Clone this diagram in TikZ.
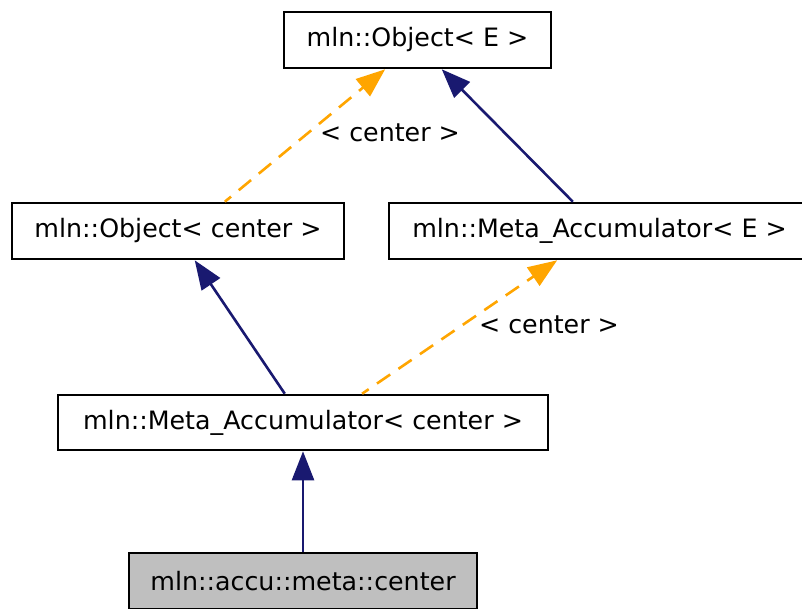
\documentclass[tikz,border=0pt]{standalone}
\usepackage{fontspec}
\setmainfont{DejaVu Sans}
\usetikzlibrary{arrows.meta,calc}
\definecolor{edgenavy}{HTML}{191970}
\definecolor{edgeorange}{HTML}{FFA500}
\definecolor{nodegray}{HTML}{BFBFBF}
\tikzset{
  cls/.style={draw=black, line width=2.6pt, fill=white, minimum height=56pt, inner sep=0pt, font=\fontsize{25.3}{30}\selectfont},
  inh/.style={draw=edgenavy, line width=2.6pt, -{Triangle[length=29pt,width=22pt]}},
  tpl/.style={draw=edgeorange, line width=2.6pt, dash pattern=on 16pt off 10pt, -{Triangle[length=29pt,width=22pt]}},
  lbl/.style={font=\fontsize{25.3}{30}\selectfont, inner sep=0pt}
}
\begin{document}
\begin{tikzpicture}[x=1pt,y=-1pt]
\useasboundingbox (0,0) rectangle (802,608);
\clip (0,0) rectangle (802,608);
\node[cls, minimum width=267pt] (OE) at (417.5,40) {mln::Object< E >};
\node[cls, minimum width=332pt] (OC) at (178,231) {mln::Object< center >};
\node[cls, minimum width=421pt] (MAE) at (599.5,231) {mln::Meta\_Accumulator< E >};
\node[cls, minimum width=490pt, minimum height=55pt] (MAC) at (303,422.5) {mln::Meta\_Accumulator< center >};
\node[cls, minimum width=348pt, fill=nodegray] (C) at (303,581) {mln::accu::meta::center};
% edges
\draw[tpl, dash phase=8pt] ($(OC.north west)!0.64!(OC.north east)$) -- ($(OE.south west)!0.38!(OE.south east)$);
\draw[inh] ($(MAE.north west)!0.437!(MAE.north east)$) -- ($(OE.south west)!0.59!(OE.south east)$);
\draw[inh] ($(MAC.north west)!0.463!(MAC.north east)$) -- ($(OC.south west)!0.55!(OC.south east)$);
\draw[tpl, dash phase=8pt] ($(MAC.north west)!0.62!(MAC.north east)$) -- ($(MAE.south west)!0.40!(MAE.south east)$);
\draw[inh] (C.north) -- (MAC.south);
% labels
\node[lbl] (L1) at (390,133) {< center >};
\node[lbl] (L2) at (549,325) {< center >};
\end{tikzpicture}
\end{document}
